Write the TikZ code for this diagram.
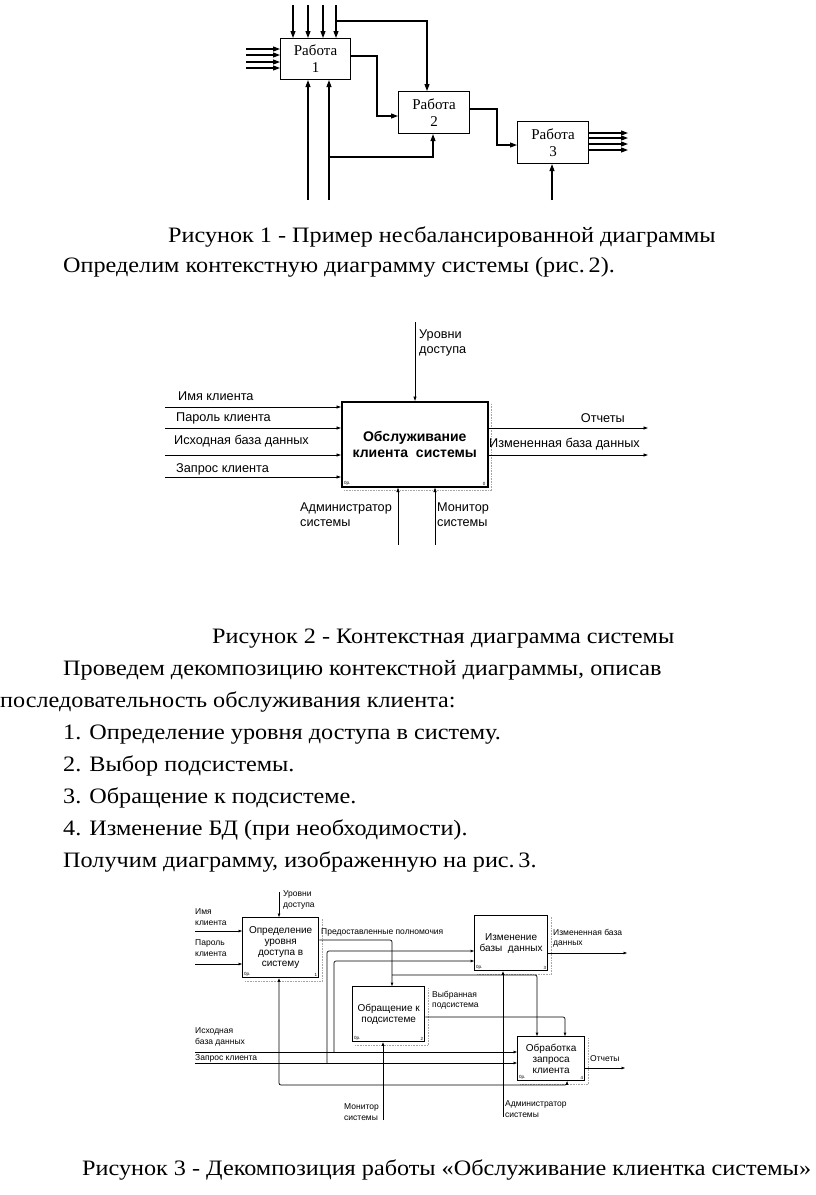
\documentclass[tikz,border=0pt]{standalone}
\usepackage{fontspec}
\setmainfont{Liberation Serif}[FakeStretch=1.1]
\newfontfamily\jobfont{Liberation Serif}
\newfontfamily\diagfont{Liberation Sans}
\usetikzlibrary{arrows.meta}

\tikzset{
  txt/.style={anchor=base west, inner sep=0pt, font=\fontsize{22}{26}\selectfont},
  % рис. 1
  job/.style={draw, line width=1.1pt, inner sep=0pt, anchor=north west, align=center,
    font=\jobfont\fontsize{15}{17}\selectfont},
  a1/.style={line width=1.1pt, -{Triangle[length=7pt,width=5pt]}},
  % рис. 2
  ctx/.style={draw, line width=1.6pt, inner sep=0pt, anchor=north west, align=center,
    font=\diagfont\bfseries\fontsize{14}{16}\selectfont},
  a2/.style={line width=0.9pt, -{Triangle[length=4.5pt,width=3pt]}},
  lab2/.style={inner sep=0pt, align=left, font=\diagfont\fontsize{12.7}{15}\selectfont},
  % рис. 3
  act/.style={draw, line width=1.3pt, inner sep=0pt, anchor=north west, align=center,
    font=\diagfont\fontsize{10}{11}\selectfont},
  a3/.style={line width=0.7pt, rounded corners=2pt, -{Triangle[length=3.5pt,width=2.6pt]}},
  lab3/.style={inner sep=0pt, align=left, font=\diagfont\fontsize{8.5}{10.5}\selectfont},
  tiny/.style={inner sep=0pt, font=\diagfont\fontsize{4.5}{5}\selectfont},
  ghost/.style={gray!70, line width=0.6pt, densely dotted},
}

\begin{document}
\begin{tikzpicture}[x=1pt,y=-1pt]
\useasboundingbox[fill=white] (0,0) rectangle (816,1195);

%% Рисунок 1
\node[job, minimum width=70pt, minimum height=41pt] (w1) at (280,38) {Работа\\1};
\node[job, minimum width=71pt, minimum height=42pt] (w2) at (398,91) {Работа\\2};
\node[job, minimum width=71pt, minimum height=42pt] (w3) at (517,121) {Работа\\3};
\foreach \x in {293,308,323,336} {
  \coordinate (t) at (\x,5);
  \draw[a1] (t) -- (t |- w1.north);
}
\foreach \y in {49,55,62,68} {
  \coordinate (l) at (246,\y);
  \draw[a1] (l) -- (l -| w1.west);
}
\coordinate (c1) at (336,21);
\coordinate (c2) at (427,21);
\draw[a1] (c1) -- (c2) -- (c2 |- w2.north);
\coordinate (o1) at (377,56);
\coordinate (o1b) at (377,116);
\draw[a1] (w1.east |- o1) -- (o1) -- (o1b) -- (o1b -| w2.west);
\coordinate (o2) at (497,109);
\coordinate (o2b) at (497,145);
\draw[a1] (w2.east |- o2) -- (o2) -- (o2b) -- (o2b -| w3.west);
\foreach \y in {133,138,144,150} {
  \coordinate (r) at (628,\y);
  \draw[a1] (w3.east |- r) -- (r);
}
\foreach \x in {308,329} {
  \coordinate (m) at (\x,200);
  \draw[a1] (m) -- (m |- w1.south);
}
\coordinate (m1) at (329,157);
\coordinate (m2) at (433,157);
\draw[a1] (m1) -- (m2) -- (m2 |- w2.south);
\coordinate (m3) at (552,200);
\draw[a1] (m3) -- (m3 |- w3.south);

\node[txt] (cap1) at (168,242) {Рисунок 1 - Пример несбалансированной диаграммы};
\node[txt] (par1) at (63,272) {Определим контекстную диаграмму системы (рис.\,2).};

%% Рисунок 2
\node[ctx, minimum width=146pt, minimum height=85pt] (sys) at (341,401)
  {Обслуживание\\клиента\ \ системы};
\draw[ghost] ([shift={(3,3)}]sys.south west) -- ([shift={(3,3)}]sys.south east) -- ([shift={(3,2)}]sys.north east);
\node[tiny, anchor=south west] at ([shift={(3,-2)}]sys.south west) {0р.};
\node[tiny, anchor=south east] at ([shift={(-3,-2)}]sys.south east) {0};
\foreach \y in {407,428,455,477} {
  \coordinate (i) at (165,\y);
  \draw[a2] (i) -- (i -| sys.west);
}
\foreach \y in {428,455} {
  \coordinate (e) at (648,\y);
  \draw[a2] (e -| sys.east) -- (e);
}
\coordinate (lev2) at (415,322);
\draw[a2] (lev2) -- (lev2 |- sys.north);
\coordinate (adm2) at (398,545);
\draw[a2] (adm2) -- (adm2 |- sys.south);
\coordinate (mon2) at (435,545);
\draw[a2] (mon2) -- (mon2 |- sys.south);
\node[lab2, anchor=west] at (178,396) {Имя клиента};
\node[lab2, anchor=west] at (176,418) {Пароль клиента};
\node[lab2, anchor=west] at (174,441) {Исходная база данных};
\node[lab2, anchor=west] at (176,469) {Запрос клиента};
\node[lab2, anchor=east] at (625,418) {Отчеты};
\node[lab2, anchor=west] at (489,444) {Измененная база данных};
\node[lab2, anchor=west] at (419,343) {Уровни\\доступа};
\node[lab2, anchor=west] at (300,515) {Администратор\\системы};
\node[lab2, anchor=west] at (437,515) {Монитор\\системы};

\node[txt] (cap2) at (212,643) {Рисунок 2 - Контекстная диаграмма системы};
\node[txt] (par2) at (63,675) {Проведем декомпозицию контекстной диаграммы, описав};
\node[txt] (par3) at (0,707) {последовательность обслуживания клиента:};
\node[txt] (st1) at (63,739) {1. Определение уровня доступа в систему.};
\node[txt] (st2) at (63,771) {2. Выбор подсистемы.};
\node[txt] (st3) at (63,803) {3. Обращение к подсистеме.};
\node[txt] (st4) at (63,835) {4. Изменение БД (при необходимости).};
\node[txt] (par4) at (63,867) {Получим диаграмму, изображенную на рис.\,3.};

%% Рисунок 3
\node[act, minimum width=76pt, minimum height=60pt] (b1) at (242,917)
  {Определение\\уровня\\доступа в\\систему};
\node[act, minimum width=73pt, minimum height=55pt] (b2) at (474,915)
  {Изменение\\базы\ \ данных};
\node[act, minimum width=72pt, minimum height=55pt] (b3) at (352,986)
  {Обращение к\\подсистеме};
\node[act, minimum width=67pt, minimum height=44pt] (b4) at (517,1036)
  {Обработка\\запроса\\клиента};
\foreach \b/\n in {b1/1,b2/3,b3/2,b4/4} {
  \draw[ghost] ([shift={(3,3)}]\b.south west) -- ([shift={(3,3)}]\b.south east) -- ([shift={(3,2)}]\b.north east);
  \node[tiny, anchor=south west] at ([shift={(2,-1.5)}]\b.south west) {0р.};
  \node[tiny, anchor=south east] at ([shift={(-2,-1.5)}]\b.south east) {\n};
}
% входы
\coordinate (lev3) at (279,892);
\draw[a3] (lev3) -- (lev3 |- b1.north);
\coordinate (nm3) at (195,931);
\draw[a3] (nm3) -- (nm3 -| b1.west);
\coordinate (pw3) at (195,964);
\draw[a3] (pw3) -- (pw3 -| b1.west);
\coordinate (db3) at (195,1052);
\draw[a3] (db3) -- (db3 -| b4.west);
\coordinate (dbu) at (334,961);
\draw[a3] (db3 -| dbu) -- (dbu) -- (dbu -| b2.west);
\coordinate (rq3) at (195,1063);
\draw[a3] (rq3) -- (rq3 -| b4.west);
\coordinate (rqu) at (327,951);
\draw[a3] (rq3 -| rqu) -- (rqu) -- (rqu -| b2.west);
% полномочия
\coordinate (pr) at (392,940);
\draw[a3] (b1.east |- pr) -- (pr) -- (pr |- b3.north);
\coordinate (pr2) at (537,975);
\draw[a3] (pr |- pr2) -- (pr2) -- (pr2 |- b4.north);
% выбранная подсистема
\coordinate (sel) at (565,1017);
\draw[a3] (b3.east |- sel) -- (sel) -- (sel |- b4.north);
% выходы
\coordinate (chg3) at (627,953);
\draw[a3] (b2.east |- chg3) -- (chg3);
\coordinate (rep3) at (625,1068);
\draw[a3] (b4.east |- rep3) -- (rep3);
% механизмы
\coordinate (adm3) at (503,1117);
\draw[a3] (adm3) -- (adm3 |- b2.south);
\coordinate (mon3) at (383,1120);
\draw[a3] (mon3) -- (mon3 |- b3.south);
\coordinate (monl) at (279,1085);
\coordinate (monr) at (567,1085);
\draw[a3] (mon3 |- monl) -- (monl) -- (monl |- b1.south);
\draw[a3] (mon3 |- monr) -- (monr) -- (monr |- b4.south);
% подписи
\node[lab3, anchor=west] at (283,900) {Уровни\\доступа};
\node[lab3, anchor=west] at (195,917) {Имя\\клиента};
\node[lab3, anchor=west] at (195,948) {Пароль\\клиента};
\node[lab3, anchor=west] at (321,932) {Предоставленные полномочия};
\node[lab3, anchor=west] at (553,938) {Измененная база\\данных};
\node[lab3, anchor=west] at (432,1000) {Выбранная\\подсистема};
\node[lab3, anchor=west] at (195,1037) {Исходная\\база данных};
\node[lab3, anchor=west] at (195,1058) {Запрос клиента};
\node[lab3, anchor=west] at (590,1059) {Отчеты};
\node[lab3, anchor=east] at (379,1112) {Монитор\\системы};
\node[lab3, anchor=west] at (505,1109) {Администратор\\системы};

\node[txt] (cap3) at (82,1175) {Рисунок 3 - Декомпозиция работы «Обслуживание клиентка системы»};
\end{tikzpicture}
\end{document}
